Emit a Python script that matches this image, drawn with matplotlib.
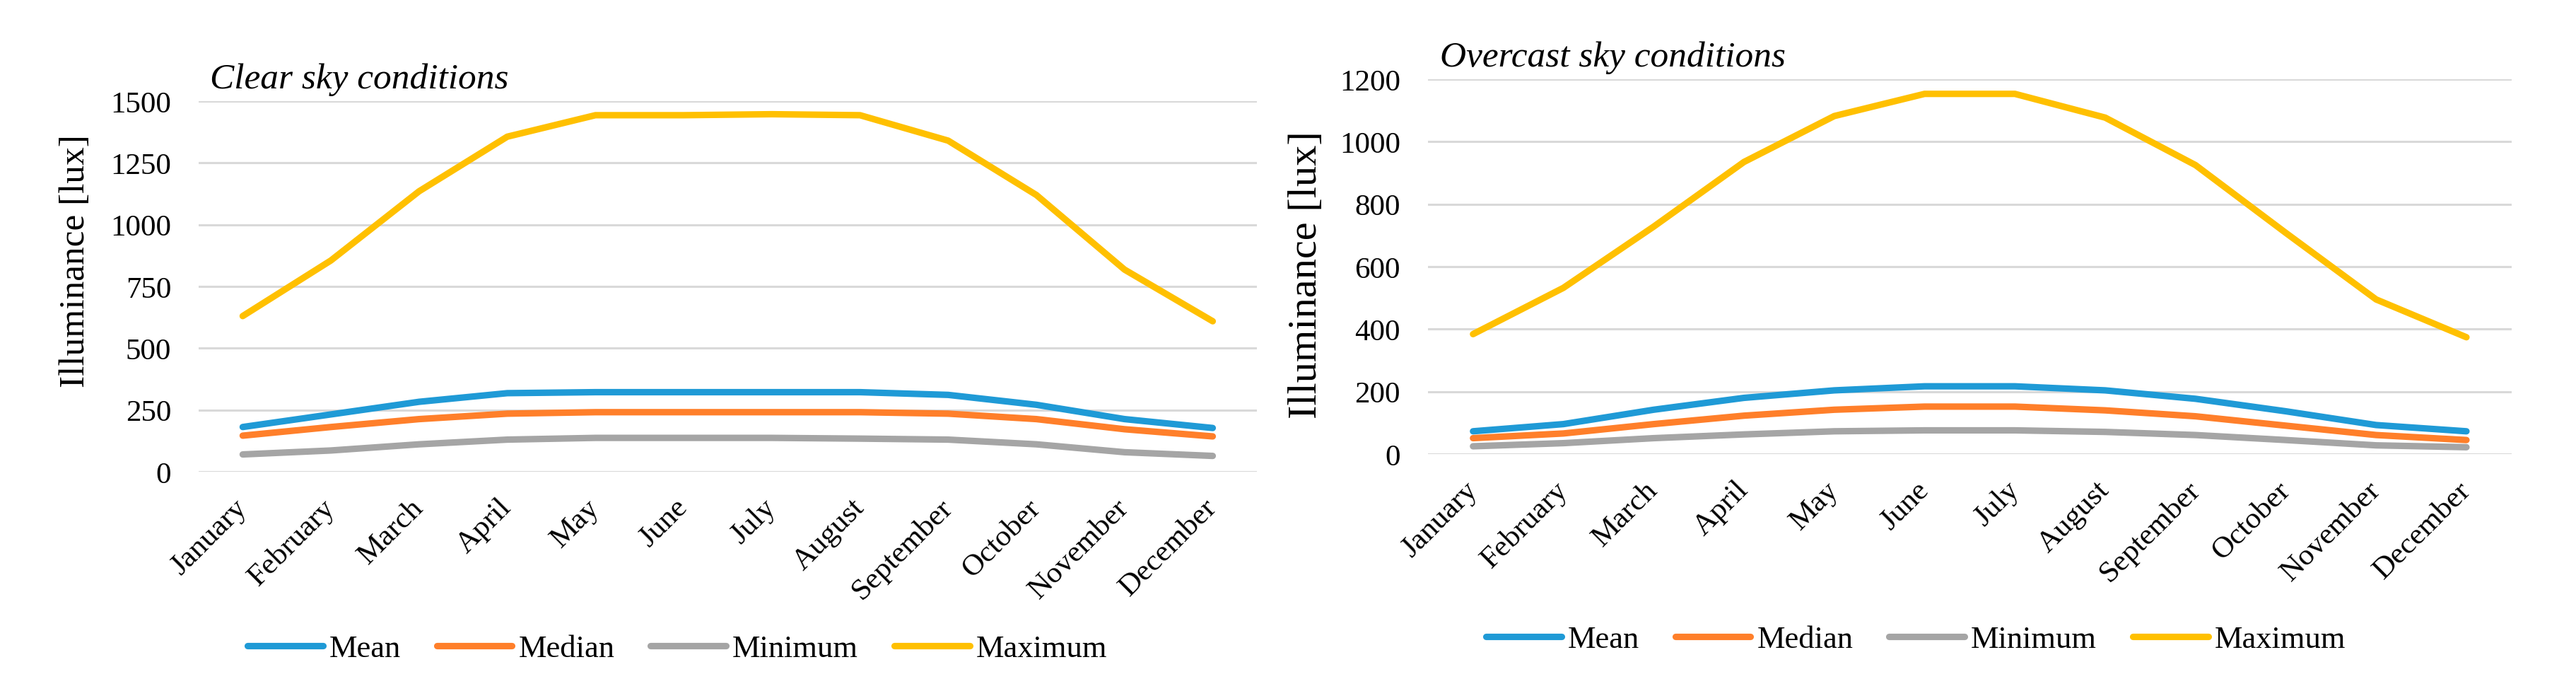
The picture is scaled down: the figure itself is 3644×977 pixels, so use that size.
import matplotlib
matplotlib.use('Agg')
import matplotlib.pyplot as plt

months = ['January', 'February', 'March', 'April', 'May', 'June', 'July',
          'August', 'September', 'October', 'November', 'December']

# clear sky
clear_mean = [181, 232, 283, 318, 322, 322, 322, 322, 311, 271, 213, 177]
clear_median = [146, 181, 213, 235, 241, 241, 241, 241, 235, 213, 172, 143]
clear_min = [70, 86, 111, 130, 137, 137, 137, 134, 130, 111, 79, 64]
clear_max = [630, 855, 1135, 1356, 1443, 1443, 1447, 1443, 1340, 1120, 818, 609]

# overcast sky
over_mean = [73, 96, 142, 180, 204, 217, 217, 204, 177, 137, 93, 73]
over_median = [51, 66, 96, 123, 142, 152, 152, 140, 121, 91, 61, 45]
over_min = [25, 35, 51, 63, 73, 76, 76, 71, 61, 45, 28, 22]
over_max = [384, 532, 728, 935, 1082, 1153, 1153, 1077, 925, 708, 495, 374]

series_names = ['Mean', 'Median', 'Minimum', 'Maximum']
colors = ['#1F9AD6', '#FF7F2A', '#A5A5A5', '#FFC000']

plt.rcParams['font.family'] = ['Liberation Serif', 'DejaVu Serif']

fig = plt.figure(figsize=(18.22, 4.89), dpi=200)

def draw(ax, data, yticks, title, fs_label, legend_xy):
    x = range(len(months))
    for vals, name, c in zip(data, series_names, colors):
        ax.plot(x, vals, color=c, lw=3.3, label=name, solid_capstyle='round', zorder=3)
    ax.set_xlim(-0.5, len(months) - 0.5)
    ax.set_ylim(yticks[0], yticks[-1])
    ax.set_yticks(yticks)
    ax.set_yticklabels([str(v) for v in yticks], fontsize=15.5)
    ax.set_xticks(list(x))
    ax.set_xticklabels(months, fontsize=15.5, rotation=45, ha='right', va='center',
                       rotation_mode='anchor')
    ax.tick_params(axis='both', length=0)
    ax.tick_params(axis='y', pad=14)
    ax.tick_params(axis='x', pad=16)
    ax.grid(axis='y', color='#D9D9D9', lw=1.1, zorder=0)
    for s in ax.spines.values():
        s.set_visible(False)
    ax.set_ylabel('Illuminance [lux]', fontsize=fs_label)
    ax.text(0.011, 1.015, title, transform=ax.transAxes, fontsize=18.5,
            style='italic', ha='left', va='bottom')
    ax.legend(loc='center', bbox_to_anchor=legend_xy, bbox_transform=fig.transFigure,
              ncol=4, frameon=False, fontsize=16, handlelength=2.4,
              handletextpad=0.2, columnspacing=1.15, borderpad=0)

ax1 = fig.add_axes([0.0771, 0.317, 0.4108, 0.5358])
draw(ax1, [clear_mean, clear_median, clear_min, clear_max],
     [0, 250, 500, 750, 1000, 1250, 1500], 'Clear sky conditions', 18.5, (0.2629, 0.0613))
ax1.yaxis.set_label_coords(-0.101, 0.57)

ax2 = fig.add_axes([0.5543, 0.3425, 0.4207, 0.542])
draw(ax2, [over_mean, over_median, over_min, over_max],
     [0, 200, 400, 600, 800, 1000, 1200], 'Overcast sky conditions', 21, (0.7437, 0.0746))
ax2.yaxis.set_label_coords(-0.095, 0.48)

fig.savefig('out.png', dpi=200)
